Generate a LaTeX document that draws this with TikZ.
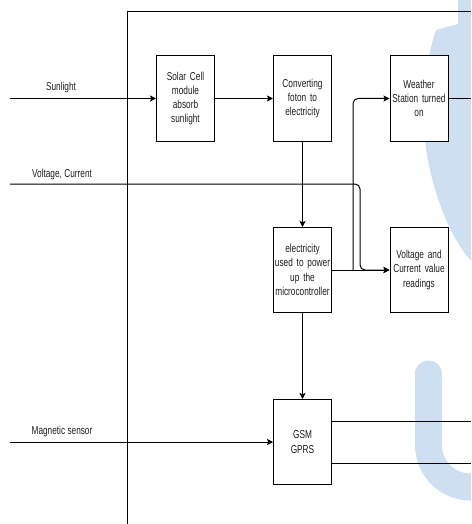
\documentclass[tikz,border=0pt]{standalone}
\usepackage{fontspec}
\setmainfont{Liberation Sans}[FakeStretch=0.72]
\usetikzlibrary{arrows.meta,calc}
\definecolor{wmblue}{RGB}{205,223,240}
\definecolor{txtgray}{RGB}{30,30,30}
\tikzset{
  box/.style={draw, line width=1pt, fill=white, minimum width=58pt, minimum height=85pt,
    text width=58pt, inner sep=0pt, align=center, font=\fontsize{11.5}{14.3}\selectfont, text=txtgray},
  arr/.style={line width=1pt, -{Stealth[length=6pt,width=6pt,inset=1.2pt]}},
  ln/.style={line width=1pt},
  lbl/.style={font=\fontsize{11.5}{12}\selectfont, text=txtgray, inner sep=0pt}
}
\begin{document}
\begin{tikzpicture}[x=1pt,y=-1pt]
\useasboundingbox (0,0) rectangle (471,524);
% watermark
\begin{scope}
\clip (0,0) rectangle (471,524);
\fill[wmblue] (458,-2) -- (458,24) -- (436,30) .. controls (422,70) and (420,130) .. (430,170)
  .. controls (438,205) and (452,240) .. (472,262) -- (475,262) -- (475,-2) -- cycle;
\draw[wmblue, line width=27pt, line cap=round] (428.5,374) -- (428.5,445) arc[start angle=180, end angle=90, radius=42] -- (480,487);
\end{scope}
% frame
\coordinate (fb) at (127,524);
\coordinate (ft) at (127,12);
\coordinate (fr) at (471,12);
\draw[ln] (fb) -- (ft) -- (fr);
% boxes
\node[box] (solar) at (185.5,98.5) {Solar Cell\\module\\absorb\\sunlight};
\node[box] (conv) at (302.5,98.5) {Converting\\foton to\\electricity};
\node[box] (weather) at (419,98.5) {Weather\\Station turned\\on};
\node[box] (elec) at (302.5,270) {electricity\\used to power\\up the\\microcontroller};
\node[box] (volt) at (419,270) {Voltage and\\Current value\\readings};
\node[box] (gsm) at (302.5,442) {GSM\\GPRS};
% inputs
\coordinate (sunS) at (10,98.5);
\coordinate (vcS) at (10,184);
\coordinate (magS) at (10,442);
\node[lbl] (sunL) at (61,88) {Sunlight};
\node[lbl] (vcL) at (62,175) {Voltage, Current};
\node[lbl] (magL) at (62,432) {Magnetic sensor};
\draw[arr] (sunS) -- (solar.west);
\draw[arr] (solar.east) -- (conv.west);
\draw[arr] (conv.south) -- (elec.north);
\draw[arr] (elec.east) -- (volt.west);
\coordinate (j) at (353,270);
\draw[arr, rounded corners=5pt] (j) |- (weather.west);
\coordinate (vcT) at (360,270);
\draw[arr, rounded corners=5pt] (vcS) -| (vcT) -- (volt.west);
\coordinate (wE) at (471,98.5);
\draw[ln] (weather.east) -- (wE);
\draw[arr] (elec.south) -- (gsm.north);
\draw[arr] (magS) -- (gsm.west);
\coordinate (g1) at (471,421);
\coordinate (g2) at (471,463);
\draw[ln] (gsm.east |- g1) -- (g1);
\draw[ln] (gsm.east |- g2) -- (g2);
\end{tikzpicture}
\end{document}
